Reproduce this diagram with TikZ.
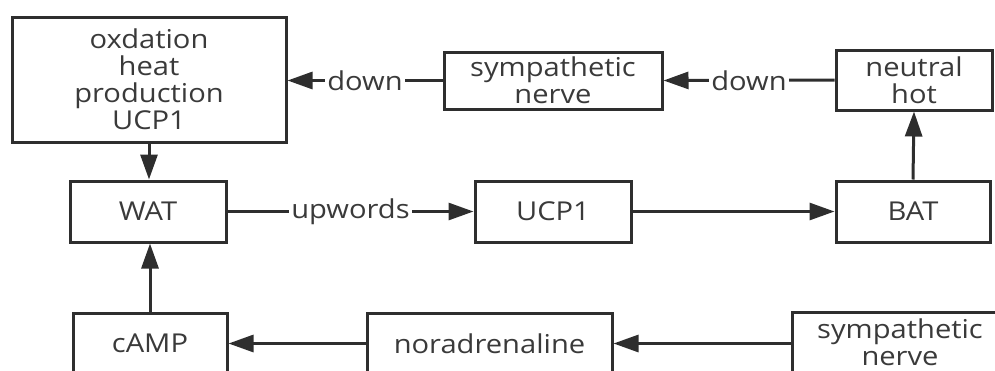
\documentclass[tikz,border=0pt]{standalone}
\usepackage{fontspec}
\setmainfont[FakeStretch=1.12]{Open Sans}
\usetikzlibrary{arrows.meta}
\definecolor{ln}{HTML}{2E2E2E}
\definecolor{tx}{HTML}{3A3A3A}
\tikzset{
  box/.style={draw=ln, line width=3pt, inner sep=0pt, align=center, text=tx,
    font=\fontsize{26pt}{27pt}\selectfont},
  conn/.style={draw=ln, line width=3pt, -{Triangle[length=25pt,width=17pt]}},
  lbl/.style={fill=white, text=tx, inner sep=2pt, font=\fontsize{26pt}{28pt}\selectfont}
}
\begin{document}
\begin{tikzpicture}[x=1pt,y=-1pt]
\useasboundingbox (0,0) rectangle (995,370);
\clip (0,0) rectangle (995,370);
\node[box, minimum width=274pt, minimum height=125pt] (ox) at (149,79.5) {oxdation\\heat\\production\\UCP1};
\node[box, minimum width=218pt, minimum height=57pt] (symtop) at (553,80.5) {sympathetic\\nerve};
\node[box, minimum width=156pt, minimum height=60pt] (neutral) at (914,80) {neutral\\hot};
\node[box, minimum width=156pt, minimum height=61pt] (wat) at (148,211.5) {WAT};
\node[box, minimum width=156pt, minimum height=61pt] (ucp) at (553,211.5) {UCP1};
\node[box, minimum width=154pt, minimum height=61pt] (bat) at (913,211.5) {BAT};
\node[box, minimum width=154pt, minimum height=61pt] (camp) at (150,343.5) {cAMP};
\node[box, minimum width=245pt, minimum height=61pt] (nor) at (489.5,343.5) {noradrenaline};
\node[box, minimum width=216pt, minimum height=61pt] (symbot) at (900,342.5) {sympathetic\\nerve};
\draw[conn] (symtop.west) -- node[lbl] {down} (ox.east |- symtop.west);
\draw[conn] (neutral.west) -- node[lbl] {down} (symtop.east);
\draw[conn] (wat.east) -- node[lbl] {upwords} (ucp.west);
\draw[conn] (ucp.east) -- (bat.west);
\draw[conn] (bat.north) -- (neutral.south);
\draw[conn] (ox.south) -- (wat.north -| ox.south);
\draw[conn] (camp.north) -- (wat.south -| camp.north);
\draw[conn] (symbot.west |- nor.east) -- (nor.east);
\draw[conn] (nor.west) -- (camp.east);
\end{tikzpicture}
\end{document}
